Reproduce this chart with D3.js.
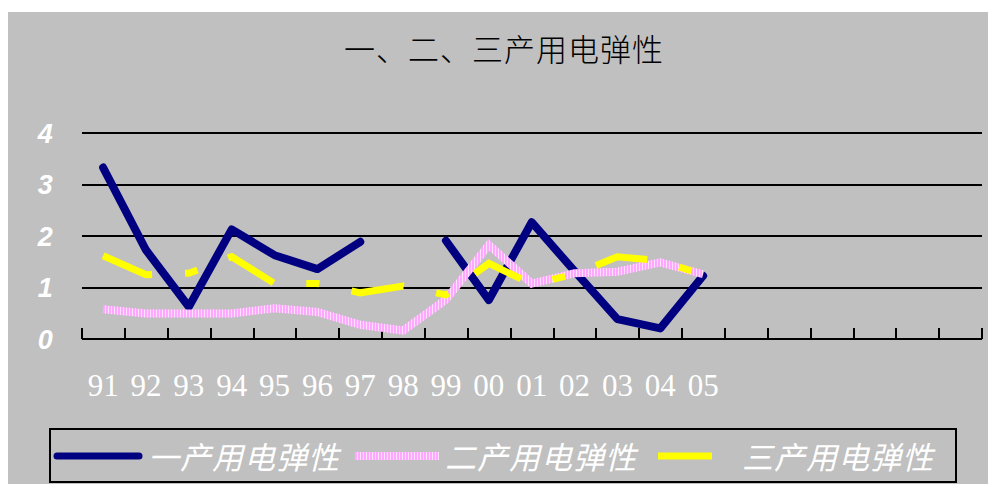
<!DOCTYPE html>
<html>
<head>
<meta charset="utf-8">
<script src="https://cdn.jsdelivr.net/npm/d3@7"></script>
<style>
  html, body { margin: 0; padding: 0; background: #ffffff; }
  svg { display: block; }
</style>
</head>
<body>
<svg id="chart" width="988" height="484"></svg>
<script>
// Year labels along the category axis (the axis holds 21 slots; the last six are empty)
const years = ["91","92","93","94","95","96","97","98","99","00","01","02","03","04","05"];
const slotCount = 21;
const yTicks = [0, 1, 2, 3, 4];

// Electricity elasticity by sector
const primary   = [3.32, 1.72, 0.62, 2.12, 1.62, 1.35, 1.88, null, 1.90, 0.75, 2.26, 1.31, 0.38, 0.20, 1.22];
const secondary = [0.57, 0.49, 0.49, 0.49, 0.59, 0.52, 0.27, 0.16, 0.76, 1.82, 1.07, 1.27, 1.30, 1.48, 1.25];
const tertiary  = [1.61, 1.24, 1.27, 1.59, 1.07, 1.07, 0.89, 1.02, 0.85, 1.46, 1.06, 1.25, 1.59, 1.51, 1.24];

const seriesNames = ["一产用电弹性", "二产用电弹性", "三产用电弹性"];
const titleText = "一、二、三产用电弹性";

const svg = d3.select("#chart");

// pink hatched stroke used by the secondary-industry line
const defs = svg.append("defs");
const pat = defs.append("pattern")
  .attr("id", "pinkHatch")
  .attr("patternUnits", "userSpaceOnUse")
  .attr("width", 3).attr("height", 3);
pat.append("rect").attr("width", 3).attr("height", 3).attr("fill", "#ffa8ff");
pat.append("rect").attr("width", 1).attr("height", 3).attr("fill", "#ffe0ff");

// chart area background
svg.append("rect")
  .attr("x", 8).attr("y", 12)
  .attr("width", 980).attr("height", 472)
  .attr("fill", "#c0c0c0");

// title
svg.append("text")
  .attr("x", 504).attr("y", 61)
  .attr("text-anchor", "middle")
  .attr("font-family", "'Noto Sans CJK SC', sans-serif")
  .attr("font-size", 31)
  .attr("font-weight", 300)
  .attr("letter-spacing", 1)
  .attr("fill", "#000")
  .text(titleText);

const plotLeft = 81.7, plotRight = 981.7;

const x = d3.scaleBand()
  .domain(d3.range(slotCount))
  .range([plotLeft, plotRight])
  .paddingInner(0).paddingOuter(0);

const xEdge = d3.scaleLinear().domain([0, slotCount]).range([plotLeft, plotRight]);

const y = d3.scaleLinear().domain([0, 4]).range([338.7, 132.5]);

const cx = i => x(i) + x.bandwidth() / 2;

// horizontal gridlines + value labels
const yAxis = svg.append("g")
  .attr("transform", `translate(${plotLeft},0)`)
  .call(d3.axisLeft(y)
    .tickValues(yTicks)
    .tickSize(-(plotRight - plotLeft))
    .tickPadding(29)
    .tickFormat(d3.format("d")));
yAxis.select(".domain").remove();
yAxis.selectAll(".tick line")
  .attr("stroke", "#000")
  .attr("stroke-width", 2)
  .attr("shape-rendering", "crispEdges");
yAxis.selectAll(".tick text")
  .attr("font-family", "Arial, 'Liberation Sans', sans-serif")
  .attr("font-size", 27)
  .attr("font-weight", "bold")
  .attr("font-style", "italic")
  .attr("fill", "#ffffff")
  .attr("dy", "0.36em");

// category axis with tick marks pointing up at slot boundaries
const xAxis = svg.append("g")
  .attr("transform", `translate(0,${y(0)})`)
  .call(d3.axisBottom(xEdge)
    .tickValues(d3.range(slotCount + 1))
    .tickSize(-11)
    .tickSizeOuter(0)
    .tickFormat(""));
xAxis.select(".domain")
  .attr("stroke", "#000").attr("stroke-width", 2)
  .attr("shape-rendering", "crispEdges");
xAxis.selectAll(".tick line")
  .attr("stroke", "#000").attr("stroke-width", 2)
  .attr("shape-rendering", "crispEdges");

// year labels
svg.append("g").selectAll("text")
  .data(years)
  .join("text")
  .attr("x", (d, i) => cx(i))
  .attr("y", 396)
  .attr("text-anchor", "middle")
  .attr("font-family", "'Liberation Serif', 'Times New Roman', serif")
  .attr("font-size", 31)
  .attr("fill", "#ffffff")
  .text(d => d);

// series lines
const line = d3.line()
  .defined(d => d != null)
  .x((d, i) => cx(i))
  .y(d => y(d));

svg.append("path")
  .datum(primary)
  .attr("d", line)
  .attr("fill", "none")
  .attr("stroke", "#000080")
  .attr("stroke-width", 8)
  .attr("stroke-linecap", "round")
  .attr("stroke-linejoin", "round");

svg.append("path")
  .datum(secondary)
  .attr("d", line)
  .attr("fill", "none")
  .attr("stroke", "url(#pinkHatch)")
  .attr("stroke-width", 8)
  .attr("stroke-linecap", "butt")
  .attr("stroke-linejoin", "miter");

svg.append("path")
  .datum(tertiary)
  .attr("d", line)
  .attr("fill", "none")
  .attr("stroke", "#ffff00")
  .attr("stroke-width", 7)
  .attr("stroke-dasharray", "53,33,13,33")
  .attr("stroke-linecap", "butt")
  .attr("stroke-linejoin", "miter");

// legend
const legend = svg.append("g");
legend.append("rect")
  .attr("x", 50).attr("y", 429)
  .attr("width", 906).attr("height", 53)
  .attr("fill", "#c0c0c0")
  .attr("stroke", "#000")
  .attr("stroke-width", 2);

const legendY = 456;
legend.append("line")
  .attr("x1", 57).attr("x2", 139)
  .attr("y1", legendY).attr("y2", legendY)
  .attr("stroke", "#000080").attr("stroke-width", 7)
  .attr("stroke-linecap", "round");
legend.append("rect")
  .attr("x", 355).attr("y", legendY - 4)
  .attr("width", 84).attr("height", 8)
  .attr("fill", "url(#pinkHatch)");
legend.append("rect")
  .attr("x", 658).attr("y", legendY - 3.5)
  .attr("width", 54).attr("height", 7)
  .attr("fill", "#ffff00");

const legendTextX = [148, 445, 742];
legend.selectAll("text.lbl")
  .data(seriesNames)
  .join("text")
  .attr("class", "lbl")
  .attr("x", (d, i) => legendTextX[i])
  .attr("y", 469)
  .attr("font-family", "'Noto Sans CJK SC', sans-serif")
  .attr("font-size", 31)
  .attr("font-style", "italic")
  .attr("letter-spacing", 1)
  .attr("fill", "#ffffff")
  .text(d => d);
</script>
</body>
</html>
